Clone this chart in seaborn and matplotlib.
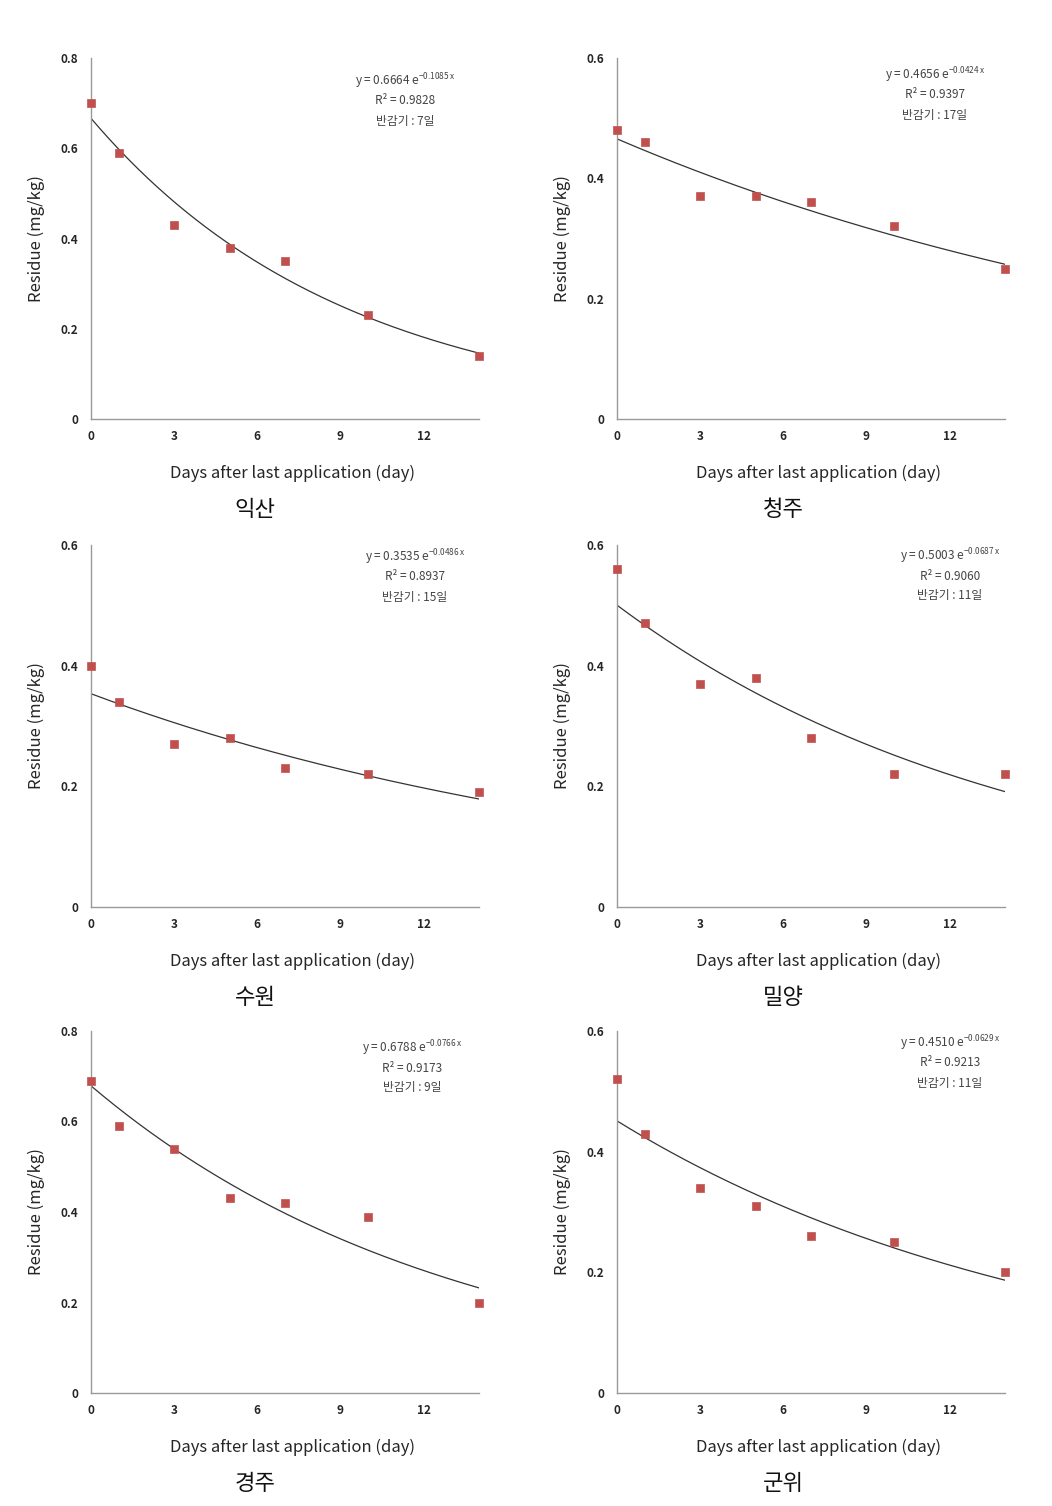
import numpy as np
import pandas as pd
import matplotlib
matplotlib.use("Agg")
import matplotlib.pyplot as plt
import seaborn as sns

sns.set_style("white")
plt.rcParams['font.family'] = ['Noto Sans CJK KR', 'DejaVu Sans']
plt.rcParams['mathtext.default'] = 'regular'

days = [0, 1, 3, 5, 7, 10, 14]
sites = ["익산", "청주", "수원", "밀양", "경주", "군위"]
res_iksan = [0.70, 0.59, 0.43, 0.38, 0.35, 0.23, 0.14]
res_cheongju = [0.48, 0.46, 0.37, 0.37, 0.36, 0.32, 0.25]
res_suwon = [0.40, 0.34, 0.27, 0.28, 0.23, 0.22, 0.19]
res_miryang = [0.56, 0.47, 0.37, 0.38, 0.28, 0.22, 0.22]
res_gyeongju = [0.69, 0.59, 0.54, 0.43, 0.42, 0.39, 0.20]
res_gunwi = [0.52, 0.43, 0.34, 0.31, 0.26, 0.25, 0.20]
residues = [res_iksan, res_cheongju, res_suwon, res_miryang, res_gyeongju, res_gunwi]

fit_a = [0.6664, 0.4656, 0.3535, 0.5003, 0.6788, 0.4510]
fit_b = [0.1085, 0.0424, 0.0486, 0.0687, 0.0766, 0.0629]
r2 = ["0.9828", "0.9397", "0.8937", "0.9060", "0.9173", "0.9213"]
half_life = ["7", "17", "15", "11", "9", "11"]
ymax = [0.8, 0.6, 0.6, 0.6, 0.8, 0.6]
xticks = [0, 3, 6, 9, 12]

fig = plt.figure(figsize=(10.52, 15.06), dpi=100)

lefts = [91, 617]
bottoms = [419, 907, 1393]
tops = [58, 545, 1031]
W, H = 1052, 1506
ann_pos = [(405, 81), (935, 75), (415, 557), (950, 556), (412, 1048), (950, 1043)]

for i in range(6):
    r, c = divmod(i, 2)
    l = lefts[c]
    ax = fig.add_axes([l / W, 1 - bottoms[r] / H, 388 / W, (bottoms[r] - tops[r]) / H])
    df = pd.DataFrame({"day": days, "res": residues[i]})
    xs = np.linspace(0, 14, 200)
    fit = pd.DataFrame({"day": xs, "res": fit_a[i] * np.exp(-fit_b[i] * xs)})
    sns.lineplot(data=fit, x="day", y="res", ax=ax, color="#333333", lw=0.9)
    sns.scatterplot(data=df, x="day", y="res", ax=ax, marker="s", s=36,
                    color="#C0504D", edgecolor="#C0504D", zorder=3, clip_on=False)
    ax.set_xlim(0, 14)
    ax.set_ylim(0, ymax[i])
    ax.set_xticks(xticks)
    ax.set_yticks(np.arange(0, ymax[i] + 0.01, 0.2))
    ax.set_yticklabels(["0" if v == 0 else f"{v:.1f}" for v in np.arange(0, ymax[i] + 0.01, 0.2)])
    for s in ["top", "right"]:
        ax.spines[s].set_visible(False)
    for s in ["left", "bottom"]:
        ax.spines[s].set_color("#999999")
        ax.spines[s].set_linewidth(1.0)
    ax.tick_params(axis="both", length=3, color="#999999", labelsize=8.5, pad=6)
    for lab in ax.get_xticklabels() + ax.get_yticklabels():
        lab.set_fontweight("bold")
    ax.tick_params(axis="x", direction="in", pad=8)
    ax.set_xlabel("Days after last application (day)", fontsize=12)
    ax.xaxis.set_label_coords(0.52, -0.127)
    ax.set_ylabel("Residue (mg/kg)", fontsize=12)
    ax.yaxis.set_label_coords(-46 / 388, 0.5)
    ax.grid(False)
    ax_x, ax_y = ann_pos[i]
    fig.text(ax_x / W, 1 - ax_y / H,
             f"y = {fit_a[i]:.4f} e$^{{-{fit_b[i]:.4f}\\,x}}$",
             ha="center", va="center", fontsize=8.5, color="#444444")
    fig.text(ax_x / W, 1 - (ax_y + 20) / H, f"R² = {r2[i]}",
             ha="center", va="center", fontsize=8.5, color="#444444")
    fig.text(ax_x / W, 1 - (ax_y + 40) / H, f"반감기 : {half_life[i]}일",
             ha="center", va="center", fontsize=8.5, color="#444444")
    fig.text((255 if c == 0 else 783) / W, 1 - (bottoms[r] + 91) / H, sites[i],
             ha="center", va="center", fontsize=16, color="#111111", fontweight="light")

fig.savefig("out.png", dpi=100, facecolor="white")
